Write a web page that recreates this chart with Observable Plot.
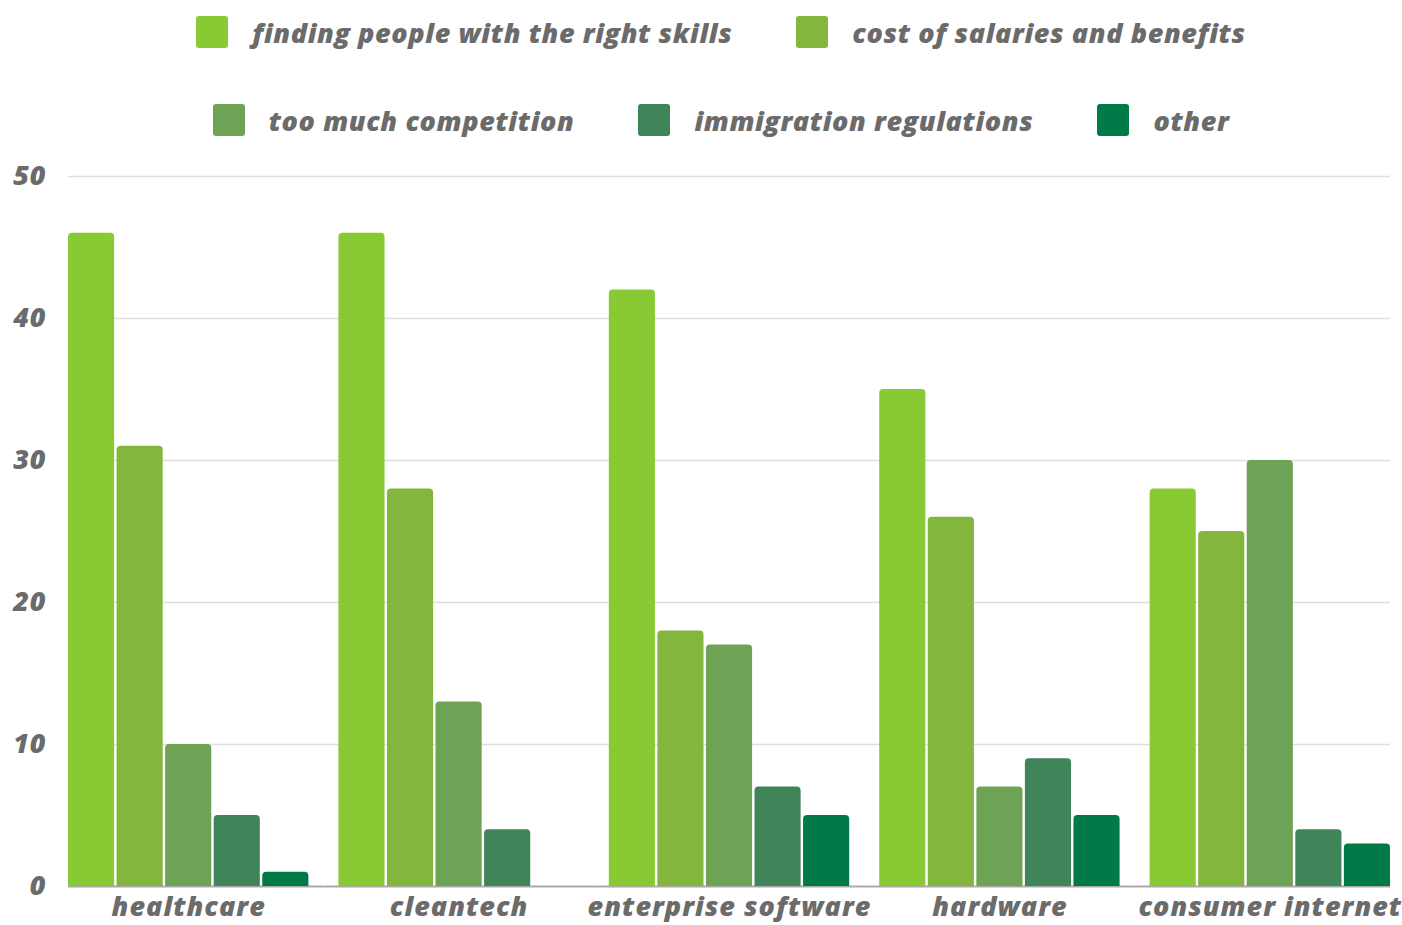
<!DOCTYPE html>
<html><head><meta charset="utf-8">
<script src="https://cdn.jsdelivr.net/npm/d3@7"></script>
<script src="https://cdn.jsdelivr.net/npm/@observablehq/plot@0.6"></script>
<style>
body{margin:0;background:#fff;font-family:"Open Sans",sans-serif;}
#legend{height:150px;box-sizing:border-box;padding-top:16px;padding-left:40px;width:1402px;}
.row{display:flex;justify-content:center;align-items:center;height:32px;}
.row + .row{margin-top:56px;}
.item{display:flex;align-items:center;margin:0 32px;}
.sw{width:32px;height:32px;border-radius:3px;margin-right:24px;}
.lab{font-style:italic;font-weight:800;font-size:27px;letter-spacing:0.6px;color:#6b6b6b;white-space:nowrap;}
#chart svg{display:block;}
</style>
</head><body>
<div id="legend"></div>
<div id="chart"></div>
<script>
const categories = ["healthcare", "cleantech", "enterprise software", "hardware", "consumer internet"];
const series = ["finding people with the right skills", "cost of salaries and benefits", "too much competition", "immigration regulations", "other"];
const colors = ["#89C933", "#82B63D", "#6EA255", "#3F8559", "#007A47"];
const findingPeople = [46, 46, 42, 35, 28];
const costOfSalaries = [31, 28, 18, 26, 25];
const tooMuchCompetition = [10, 13, 17, 7, 30];
const immigrationRegs = [5, 4, 7, 9, 4];
const other = [1, 0, 5, 5, 3];
const yTicks = [0, 10, 20, 30, 40, 50];

const values = [findingPeople, costOfSalaries, tooMuchCompetition, immigrationRegs, other];
const data = [];
categories.forEach((c, i) => series.forEach((s, j) => {
  if (values[j][i] > 0) data.push({category: c, series: s, value: values[j][i]});
}));

// gridline rows per facet (so lines continue across the gaps between groups)
const gridRows = [];
categories.forEach(c => yTicks.forEach(t => gridRows.push({category: c, tick: t})));
const first = categories[0], last = categories[categories.length - 1];
const gridFirst = gridRows.filter(d => d.category === first);
const gridMid = gridRows.filter(d => d.category !== first && d.category !== last);
const gridLast = gridRows.filter(d => d.category === last);

// legend
const legend = document.getElementById("legend");
[[0, 1], [2, 3, 4]].forEach(idx => {
  const row = document.createElement("div");
  row.className = "row";
  idx.forEach(j => {
    const it = document.createElement("div");
    it.className = "item";
    it.innerHTML = `<span class="sw" style="background:${colors[j]}"></span><span class="lab">${series[j]}</span>`;
    row.appendChild(it);
  });
  legend.appendChild(row);
});

const textStyle = {fontSize: 27, fontStyle: "italic", fontWeight: 800, fill: "#6b6b6b"};
const gap = 15;
const gridMarks = (rows, opts) => [
  Plot.ruleY(rows.filter(d => d.tick > 0), {fx: "category", y: "tick", stroke: "#dedede", strokeWidth: 1.5, ...opts}),
  Plot.ruleY(rows.filter(d => d.tick === 0), {fx: "category", y: "tick", stroke: "#a9a9a9", strokeWidth: 2, ...opts})
];

const chart = Plot.plot({
  width: 1402,
  height: 775,
  marginTop: 26,
  marginBottom: 39,
  marginLeft: 68,
  marginRight: 12,
  style: {fontFamily: "'Open Sans', sans-serif", background: "#fff", letterSpacing: "1px"},
  fx: {domain: categories, paddingInner: 0.111, paddingOuter: 0, round: false, label: null},
  x: {domain: series, paddingInner: 0.05, paddingOuter: 0, round: false, axis: null},
  y: {domain: [0, 50], label: null},
  color: {domain: series, range: colors},
  marks: [
    ...gridMarks(gridFirst, {insetRight: -gap}),
    ...gridMarks(gridMid, {insetLeft: -gap, insetRight: -gap}),
    ...gridMarks(gridLast, {insetLeft: -gap}),
    Plot.barY(data, {fx: "category", x: "series", y: "value", fill: "series", ry1: 4}),
    Plot.axisY(yTicks, {tickSize: 0, tickPadding: 22, label: null, ...textStyle}),
    Plot.axisFx({anchor: "bottom", tickSize: 0, tickPadding: 10, label: null, ...textStyle})
  ]
});
document.getElementById("chart").appendChild(chart);
</script>
</body></html>
